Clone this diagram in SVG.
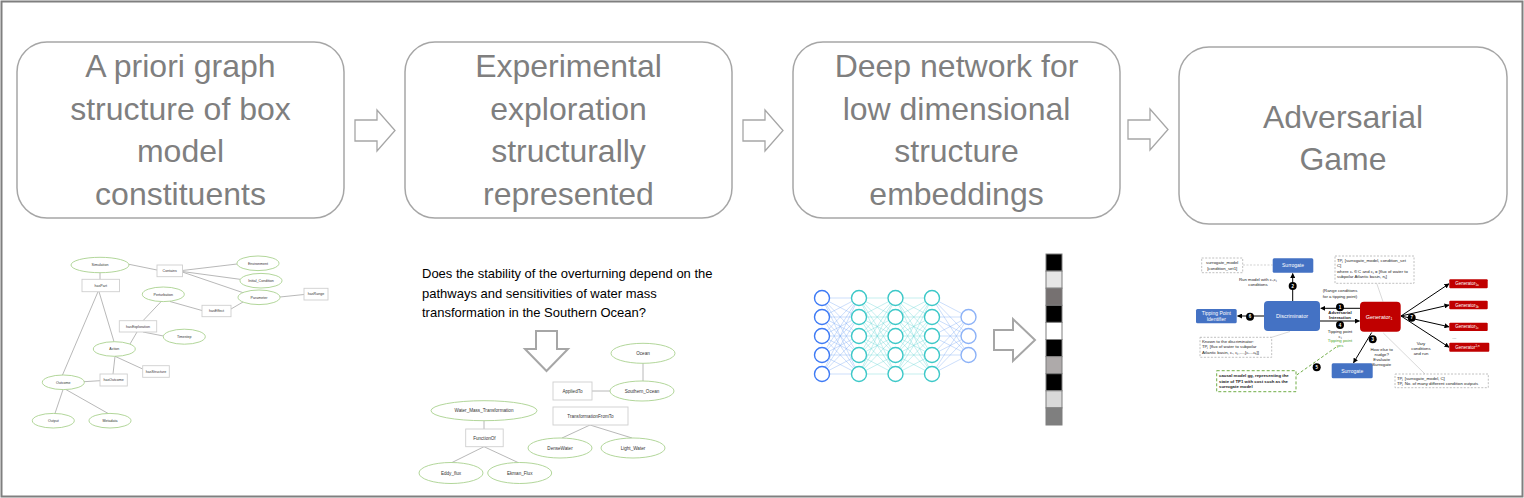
<svg xmlns="http://www.w3.org/2000/svg" xmlns:xlink="http://www.w3.org/1999/xlink" width="1524" height="498" viewBox="0 0 1524 498">
<style>
.box{fill:#fff;stroke:#a6a6a6;stroke-width:1.5}
.big{font-family:"Liberation Sans",Arial,sans-serif;font-size:32px;fill:#7f7f7f;text-anchor:middle}
.barrow{fill:#fff;stroke:#a6a6a6;stroke-width:1.3}
.q{font-family:"Liberation Sans",Arial,sans-serif;font-size:13px;fill:#000}
.ell{fill:#fff;stroke:#a9d18e;stroke-width:0.9}
.rel{fill:#fff;stroke:#cfcfcf;stroke-width:0.9}
.gl{stroke:#a6a6a6;stroke-width:0.8;fill:none}
.t3{font-family:"Liberation Sans",Arial,sans-serif;font-size:3.6px;fill:#333;text-anchor:middle}
.t4{font-family:"Liberation Sans",Arial,sans-serif;font-size:4.6px;fill:#333;text-anchor:middle}
.n1{fill:#fff;stroke:#3d7af5;stroke-width:1.4}
.n2{fill:#fff;stroke:#3cc8c8;stroke-width:1.4}
.n3{fill:#fff;stroke:#8cb2f7;stroke-width:1.4}
.c1{stroke:#7aa7f5;stroke-width:0.55;opacity:0.7;fill:none}
.c2{stroke:#66d6d6;stroke-width:0.55;opacity:0.7;fill:none}
.blue{fill:#4472c4}
.red{fill:#c00000}
.wt{font-family:"Liberation Sans",Arial,sans-serif;font-size:5px;fill:#fff;text-anchor:middle}
.st{font-family:"Liberation Sans",Arial,sans-serif;font-size:4.3px;fill:#222}
.stc{font-family:"Liberation Sans",Arial,sans-serif;font-size:4.3px;fill:#222;text-anchor:middle}
.dbox{fill:#fff;stroke:#b0b0b0;stroke-width:0.8;stroke-dasharray:2 1.5}
.dl{stroke:#bfbfbf;stroke-width:0.7;stroke-dasharray:2 1.5;fill:none}
.gl2{stroke:#bfbfbf;stroke-width:0.6;fill:none}
.ar{stroke:#000;stroke-width:1;fill:none;marker-end:url(#ah)}
.bdg{fill:#000}
.bt{font-family:"Liberation Sans",Arial,sans-serif;font-size:4.5px;font-weight:bold;fill:#fff;text-anchor:middle}
</style>
<defs>
<marker id="ah" viewBox="0 0 10 10" refX="9" refY="5" markerWidth="5" markerHeight="5" orient="auto"><path d="M0 0L10 5L0 10z" fill="#000"/></marker>
<path id="c55" d="M0 298L36.5 298M0 298L36.5 317M0 298L36.5 336M0 298L36.5 355M0 298L36.5 374M0 317L36.5 298M0 317L36.5 317M0 317L36.5 336M0 317L36.5 355M0 317L36.5 374M0 336L36.5 298M0 336L36.5 317M0 336L36.5 336M0 336L36.5 355M0 336L36.5 374M0 355L36.5 298M0 355L36.5 317M0 355L36.5 336M0 355L36.5 355M0 355L36.5 374M0 374L36.5 298M0 374L36.5 317M0 374L36.5 336M0 374L36.5 355M0 374L36.5 374"/>
<path id="c53" d="M0 298L36.5 317M0 298L36.5 336M0 298L36.5 355M0 317L36.5 317M0 317L36.5 336M0 317L36.5 355M0 336L36.5 317M0 336L36.5 336M0 336L36.5 355M0 355L36.5 317M0 355L36.5 336M0 355L36.5 355M0 374L36.5 317M0 374L36.5 336M0 374L36.5 355"/>
</defs>
<rect x="0" y="0" width="1524" height="498" fill="#fff"/>
<rect x="1.5" y="1.5" width="1521" height="495" fill="none" stroke="#7f7f7f" stroke-width="2"/>

<!-- top stage boxes -->
<g id="stage1">
<rect class="box" x="17" y="42" width="327" height="176" rx="30"/>
<text class="big" x="180.5" y="77">A priori graph</text>
<text class="big" x="180.5" y="120">structure of box</text>
<text class="big" x="180.5" y="162">model</text>
<text class="big" x="180.5" y="205">constituents</text>
</g>
<g id="stage2">
<rect class="box" x="405" y="42" width="327" height="176" rx="30"/>
<text class="big" x="568.5" y="77">Experimental</text>
<text class="big" x="568.5" y="120">exploration</text>
<text class="big" x="568.5" y="162">structurally</text>
<text class="big" x="568.5" y="205">represented</text>
</g>
<g id="stage3">
<rect class="box" x="793" y="42" width="327" height="176" rx="30"/>
<text class="big" x="956.5" y="77">Deep network for</text>
<text class="big" x="956.5" y="120">low dimensional</text>
<text class="big" x="956.5" y="162">structure</text>
<text class="big" x="956.5" y="205">embeddings</text>
</g>
<g id="stage4">
<rect class="box" x="1179" y="47" width="328" height="177" rx="30"/>
<text class="big" x="1343" y="128">Adversarial</text>
<text class="big" x="1343" y="170">Game</text>
</g>
<g id="stage-arrows">
<polygon class="barrow" points="355,120 377,120 377,110 395,130.5 377,151 377,141 355,141"/>
<polygon class="barrow" points="743,120 765,120 765,110 783,130.5 765,151 765,141 743,141"/>
<polygon class="barrow" points="1128,120 1150,120 1150,109 1168,129.5 1150,150 1150,139 1128,139"/>
</g>

<!-- left graph -->
<g id="graph1">
<g id="graph1-edges">
<path class="gl" d="M100 272.7L100 279.3M129 264.3L157 270M182.3 270.5L237 264M182.3 271.5L240 279.3M182.3 272L244 293M280 297L304 294.5M170 301.5L202 310.5M231 309L243 302M143 320.7L161 301.7M143 332L163.5 336M137 332L130 344M99 291.7L114 341.7M98 291.7L62.5 375M115 356.3L142.7 369M115 356.3L113 374M84 381.7L100 380.7M63 389.6L55 413.4M66 389.6L108 413.4"/>
</g>
<g id="g1-simulation"><ellipse class="ell" cx="100" cy="265" rx="29" ry="7.7"/><text class="t3" x="100" y="266.3">Simulation</text></g>
<g id="g1-environment"><ellipse class="ell" cx="258" cy="263.3" rx="21" ry="7.3"/><text class="t3" x="258" y="264.6">Environment</text></g>
<g id="g1-initial"><ellipse class="ell" cx="261" cy="280.7" rx="21" ry="7.3"/><text class="t3" x="261" y="282">Initial_Condition</text></g>
<g id="g1-parameter"><ellipse class="ell" cx="259" cy="297.3" rx="21" ry="7.3"/><text class="t3" x="259" y="298.6">Parameter</text></g>
<g id="g1-perturbation"><ellipse class="ell" cx="163.3" cy="294.3" rx="21" ry="7.3"/><text class="t3" x="163.3" y="295.6">Perturbation</text></g>
<g id="g1-timestep"><ellipse class="ell" cx="184.3" cy="336.7" rx="21" ry="7.5"/><text class="t3" x="184.3" y="338">Timestep</text></g>
<g id="g1-action"><ellipse class="ell" cx="114.3" cy="349" rx="21" ry="7.3"/><text class="t3" x="114.3" y="350.3">Action</text></g>
<g id="g1-outcome"><ellipse class="ell" cx="63.3" cy="382.3" rx="21" ry="7.3"/><text class="t3" x="63.3" y="383.6">Outcome</text></g>
<g id="g1-output"><ellipse class="ell" cx="53.3" cy="420.7" rx="21" ry="7.3"/><text class="t3" x="53.3" y="422">Output</text></g>
<g id="g1-metadata"><ellipse class="ell" cx="110" cy="420.7" rx="21" ry="7.3"/><text class="t3" x="110" y="422">Metadata</text></g>
<g id="g1-haspart"><rect class="rel" x="82" y="279.3" width="37.5" height="12.4"/><text class="t3" x="100.7" y="286.8">hasPart</text></g>
<g id="g1-contains"><rect class="rel" x="157" y="265" width="25.5" height="11.7"/><text class="t3" x="169.7" y="272.1">Contains</text></g>
<g id="g1-hasrange"><rect class="rel" x="304" y="288.3" width="24" height="11.7"/><text class="t3" x="316" y="295.4">hasRange</text></g>
<g id="g1-haseffect"><rect class="rel" x="202" y="305.3" width="29" height="11.4"/><text class="t3" x="216.5" y="312.3">hasEffect</text></g>
<g id="g1-hasexploration"><rect class="rel" x="119.3" y="320.7" width="37.4" height="11.3"/><text class="t3" x="138" y="327.6">hasExploration</text></g>
<g id="g1-hasstructure"><rect class="rel" x="142.7" y="365.7" width="26.6" height="11.6"/><text class="t3" x="156" y="372.8">hasStructure</text></g>
<g id="g1-hasoutcome"><rect class="rel" x="100" y="374" width="27.3" height="12"/><text class="t3" x="113.6" y="381.3">hasOutcome</text></g>
</g>

<!-- middle: question + graph -->
<g id="question">
<text class="q" x="422" y="278">Does the stability of the overturning depend on the</text>
<text class="q" x="422" y="297.5">pathways and sensitivities of water mass</text>
<text class="q" x="422" y="317">transformation in the Southern Ocean?</text>
<polygon class="barrow" style="stroke-width:2" points="536,331 557,331 557,349 568,349 546.5,371 525,349 536,349"/>
</g>
<g id="graph2">
<g id="graph2-edges">
<path class="gl" d="M643 363.3L643 381M592 391L610 391M590 425L562 438M590 425L632 438M484 420.7L484 429M484 446.7L452 462.5M484 446.7L518 462.5"/>
</g>
<g id="g2-ocean"><ellipse class="ell" cx="643" cy="353.3" rx="32" ry="10"/><text class="t4" x="643" y="355">Ocean</text></g>
<g id="g2-southern"><ellipse class="ell" cx="642" cy="391" rx="32" ry="10"/><text class="t4" x="642" y="392.7">Southern_Ocean</text></g>
<g id="g2-appliedto"><rect class="rel" x="553" y="382" width="39" height="18"/><text class="t4" x="572.5" y="392.7">AppliedTo</text></g>
<g id="g2-tft"><rect class="rel" x="553" y="407" width="75" height="18"/><text class="t4" x="590.5" y="417.7">TransformationFromTo</text></g>
<g id="g2-dense"><ellipse class="ell" cx="560" cy="448" rx="32" ry="10"/><text class="t4" x="560" y="449.7">DenseWater</text></g>
<g id="g2-light"><ellipse class="ell" cx="633" cy="448" rx="32" ry="10"/><text class="t4" x="633" y="449.7">Light_Water</text></g>
<g id="g2-wmt"><ellipse class="ell" cx="484" cy="410.7" rx="53" ry="10"/><text class="t4" x="484" y="412.4">Water_Mass_Transformation</text></g>
<g id="g2-functionof"><rect class="rel" x="465.7" y="429" width="37.5" height="17.7"/><text class="t4" x="484.4" y="439.5">FunctionOf</text></g>
<g id="g2-eddy"><ellipse class="ell" cx="451" cy="473" rx="32" ry="10.5"/><text class="t4" x="451" y="474.7">Eddy_flux</text></g>
<g id="g2-ekman"><ellipse class="ell" cx="519.7" cy="473" rx="32" ry="10.5"/><text class="t4" x="519.7" y="474.7">Ekman_Flux</text></g>
</g>

<!-- neural network -->
<g id="nn">
<g id="nn-edges">
<use href="#c55" xlink:href="#c55" class="c1" x="822"/>
<use href="#c55" xlink:href="#c55" class="c2" x="859"/>
<use href="#c55" xlink:href="#c55" class="c2" x="895.5"/>
<use href="#c53" xlink:href="#c53" class="c1" x="932"/>
</g>
<g id="nn-layer1">
<circle class="n1" cx="822" cy="298" r="7.5"/><circle class="n1" cx="822" cy="317" r="7.5"/><circle class="n1" cx="822" cy="336" r="7.5"/><circle class="n1" cx="822" cy="355" r="7.5"/><circle class="n1" cx="822" cy="374" r="7.5"/>
</g>
<g id="nn-layer2">
<circle class="n2" cx="859" cy="298" r="7.5"/><circle class="n2" cx="859" cy="317" r="7.5"/><circle class="n2" cx="859" cy="336" r="7.5"/><circle class="n2" cx="859" cy="355" r="7.5"/><circle class="n2" cx="859" cy="374" r="7.5"/>
</g>
<g id="nn-layer3">
<circle class="n2" cx="895.5" cy="298" r="7.5"/><circle class="n2" cx="895.5" cy="317" r="7.5"/><circle class="n2" cx="895.5" cy="336" r="7.5"/><circle class="n2" cx="895.5" cy="355" r="7.5"/><circle class="n2" cx="895.5" cy="374" r="7.5"/>
</g>
<g id="nn-layer4">
<circle class="n2" cx="932" cy="298" r="7.5"/><circle class="n2" cx="932" cy="317" r="7.5"/><circle class="n2" cx="932" cy="336" r="7.5"/><circle class="n2" cx="932" cy="355" r="7.5"/><circle class="n2" cx="932" cy="374" r="7.5"/>
</g>
<g id="nn-layer5">
<circle class="n3" cx="968.5" cy="317" r="7.5"/><circle class="n3" cx="968.5" cy="336" r="7.5"/><circle class="n3" cx="968.5" cy="355" r="7.5"/>
</g>
<polygon class="barrow" style="stroke-width:2" points="994,330 1013,330 1013,319 1035,340 1013,361 1013,350 994,350"/>
</g>
<g id="embedding" stroke="#7f7f7f" stroke-width="1">
<rect x="1046" y="254" width="16" height="17.1" fill="#000"/>
<rect x="1046" y="271.1" width="16" height="17.1" fill="#e6e6e6"/>
<rect x="1046" y="288.2" width="16" height="17.1" fill="#767171"/>
<rect x="1046" y="305.3" width="16" height="17.1" fill="#000"/>
<rect x="1046" y="322.4" width="16" height="17.1" fill="#fff"/>
<rect x="1046" y="339.5" width="16" height="17.1" fill="#000"/>
<rect x="1046" y="356.6" width="16" height="17.1" fill="#aeaaaa"/>
<rect x="1046" y="373.7" width="16" height="17.1" fill="#000"/>
<rect x="1046" y="390.8" width="16" height="17.1" fill="#d9d9d9"/>
<rect x="1046" y="407.9" width="16" height="17.1" fill="#7f7f7f"/>
</g>

<!-- adversarial game -->
<g id="adv">
<g id="adv-connectors">
<path class="dl" d="M1243 265L1272.7 265"/>
<path class="gl2" d="M1271.7 337.3L1290 331.5M1376.7 283.3L1383 301.7M1383.3 333L1425 374"/>
<path d="M1296.7 375L1336.7 346.7" stroke="#70ad47" stroke-width="1" stroke-dasharray="3 2" fill="none"/>
<path class="ar" d="M1292.7 301L1292.7 273.5"/>
<path class="ar" d="M1264 316L1237.5 316"/>
<path class="ar" d="M1360 308.3L1320.8 308.3"/>
<path class="ar" d="M1320 321L1359.5 321"/>
<path class="ar" d="M1371.7 332.5L1353.5 362.8"/>
<path class="ar" d="M1401 316L1449 283.8"/>
<path class="ar" d="M1401 316L1449 305"/>
<path class="ar" d="M1401 316L1449 326.8"/>
<path class="ar" d="M1401 316L1449 347.2"/>
</g>
<g id="adv-box-set1"><rect class="dbox" x="1201.7" y="258" width="41" height="14.7"/><text class="stc" x="1222.2" y="264">surrogate_model</text><text class="stc" x="1222.2" y="269.5">[condition_set1]</text></g>
<g id="adv-surrogate-top"><rect class="blue" x="1272.7" y="258.3" width="40.6" height="14.4" rx="1.5"/><text class="wt" x="1293" y="267.3">Surrogate</text></g>
<g id="adv-runlabel"><text class="stc" x="1258" y="280.5">Run model with cᵢ,cⱼ</text><text class="stc" x="1258" y="285.5">conditions</text></g>
<g id="adv-discriminator"><rect class="blue" x="1264" y="301" width="56" height="30" rx="4"/><text class="wt" x="1292" y="317.8" style="font-size:5.5px">Discriminator</text></g>
<g id="adv-tpi"><rect class="blue" x="1196" y="309" width="40.7" height="14.3" rx="1.5"/><text class="wt" x="1216.3" y="315.2">Tipping Point</text><text class="wt" x="1216.3" y="320.8">Identifier</text></g>
<g id="adv-generator"><rect class="red" x="1360" y="301.7" width="40.7" height="30" rx="4"/><text class="wt" x="1379" y="318.5" style="font-size:5.5px">Generator<tspan dy="1.5" style="font-size:3.5px">1</tspan></text></g>
<g id="adv-range"><text class="stc" x="1340" y="292">(Range conditions</text><text class="stc" x="1340" y="297.5">for a tipping point)</text></g>
<g id="adv-interaction"><text class="stc" x="1340" y="314" font-weight="bold">Adversarial</text><text class="stc" x="1340" y="318.5" font-weight="bold">Interaction</text></g>
<g id="adv-tp"><text class="stc" x="1340" y="333">Tipping point</text><text class="stc" x="1340" y="337.5">cⱼ</text><text class="stc" x="1340" y="342" style="fill:#4ea72e">Tipping point</text><text class="stc" x="1340" y="347" style="fill:#4ea72e">yes</text></g>
<g id="adv-known"><rect class="dbox" x="1200" y="337.3" width="71.7" height="20"/><text class="st" x="1202" y="342.5">Known to the discriminator:</text><text class="st" x="1202" y="348">TPⱼ [flux of water to subpolar</text><text class="st" x="1202" y="353.5">Atlantic basin, cᵢ, cⱼ,…,[cᵢ…cₖ]]</text></g>
<g id="adv-causal"><rect x="1216.7" y="370.7" width="79.3" height="21" fill="#fff" stroke="#70ad47" stroke-width="1" stroke-dasharray="3 2"/><text class="st" x="1219" y="377" font-weight="bold">causal model gg, representing the</text><text class="st" x="1219" y="382.5" font-weight="bold">state of TP1 with cost such as the</text><text class="st" x="1219" y="388" font-weight="bold">surrogate model</text></g>
<g id="adv-surrogate-bottom"><rect class="blue" x="1331.7" y="363.3" width="41" height="15" rx="1.5"/><text class="wt" x="1352.2" y="372.6">Surrogate</text></g>
<g id="adv-nudge"><text class="stc" x="1381.7" y="351">How else to</text><text class="stc" x="1381.7" y="356">nudge?</text><text class="stc" x="1381.7" y="361">Evaluate</text><text class="stc" x="1381.7" y="366">Surrogate</text></g>
<g id="adv-tpbox"><rect class="dbox" x="1335" y="256" width="79" height="27.3"/><text class="st" x="1337" y="261.5">TPⱼ [surrogate_model, condition_set</text><text class="st" x="1337" y="267">C]</text><text class="st" x="1337" y="272.5">where cᵢ ∈ C and cⱼ = [flux of water to</text><text class="st" x="1337" y="278">subpolar Atlantic basin, nⱼ]</text></g>
<g id="adv-gen1a"><rect class="red" x="1449.3" y="279.3" width="38.4" height="9" rx="1"/><text class="wt" x="1467" y="285.3" style="font-size:4.5px">Generator<tspan dy="1" style="font-size:3px">1a</tspan></text></g>
<g id="adv-gen1b"><rect class="red" x="1449.3" y="300.7" width="38.4" height="8.6" rx="1"/><text class="wt" x="1467" y="306.5" style="font-size:4.5px">Generator<tspan dy="1" style="font-size:3px">1b</tspan></text></g>
<g id="adv-gen1c"><rect class="red" x="1449.3" y="322.7" width="38.4" height="8.4" rx="1"/><text class="wt" x="1467" y="328.4" style="font-size:4.5px">Generator<tspan dy="1" style="font-size:3px">1c</tspan></text></g>
<g id="adv-gen1n"><rect class="red" x="1449.3" y="342.7" width="40" height="9" rx="1"/><text class="wt" x="1467.5" y="348.6" style="font-size:4.5px">Generator<tspan dy="-1.5" style="font-size:3px">1,n</tspan></text></g>
<text class="stc" x="1454.3" y="339">…</text>
<g id="adv-vary"><text class="stc" x="1421" y="345">Vary</text><text class="stc" x="1421" y="350">conditions</text><text class="stc" x="1421" y="355">and run</text></g>
<g id="adv-tpbox2"><rect class="dbox" x="1395" y="374" width="93.3" height="13.7"/><text class="st" x="1397" y="379.5">TPⱼ [surrogate_model, C]</text><text class="st" x="1397" y="385">TPⱼ No. of many different condition outputs</text></g>
<g id="adv-badges">
<circle class="bdg" cx="1292.7" cy="286" r="4"/><text class="bt" x="1292.7" y="287.6">2</text>
<circle class="bdg" cx="1250" cy="316.7" r="4"/><text class="bt" x="1250" y="318.3">6</text>
<circle class="bdg" cx="1340" cy="307.3" r="4"/><text class="bt" x="1340" y="308.9">1</text>
<circle class="bdg" cx="1340" cy="325" r="4"/><text class="bt" x="1340" y="326.6">4</text>
<circle class="bdg" cx="1372.7" cy="339.3" r="4"/><text class="bt" x="1372.7" y="340.9">3</text>
<circle class="bdg" cx="1316.7" cy="367.3" r="4"/><text class="bt" x="1316.7" y="368.9">5</text>
<circle class="bdg" cx="1411.7" cy="317.7" r="4"/><text class="bt" x="1411.7" y="319.3">7</text>
</g>
</g>
</svg>
